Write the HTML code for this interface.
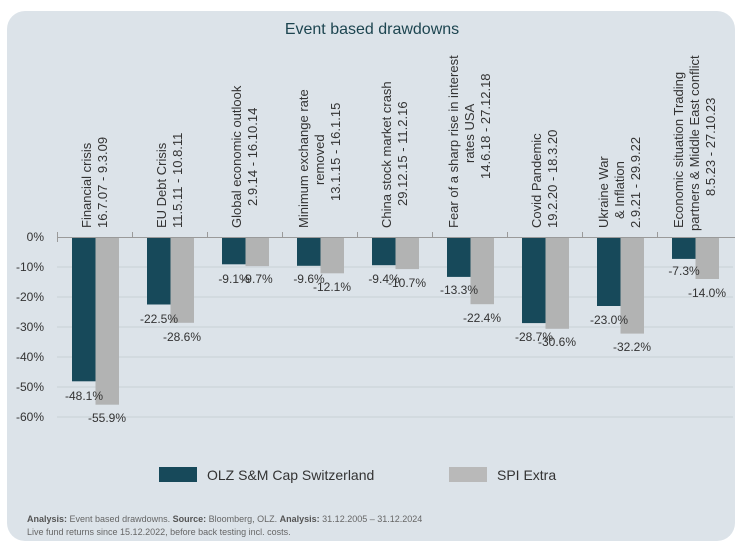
<!DOCTYPE html>
<html><head><meta charset="utf-8"><style>
html,body{margin:0;padding:0;background:#fff;width:746px;height:548px;overflow:hidden}
svg{display:block}
text{font-family:"Liberation Sans",sans-serif}
</style></head><body>
<svg width="746" height="548" viewBox="0 0 746 548" xmlns="http://www.w3.org/2000/svg">
<rect x="7" y="11" width="728" height="530" rx="18" fill="#dce3e9"/>
<text x="372" y="34" text-anchor="middle" font-size="16" fill="#1d4550">Event based drawdowns</text>
<g stroke="#c9d0d5" stroke-width="1">
<line x1="57" y1="267" x2="733" y2="267"/><line x1="57" y1="297" x2="733" y2="297"/>
<line x1="57" y1="327" x2="733" y2="327"/><line x1="57" y1="357" x2="733" y2="357"/>
<line x1="57" y1="387" x2="733" y2="387"/><line x1="57" y1="417" x2="733" y2="417"/>
</g>
<g font-size="12" fill="#333" text-anchor="end">
<text x="44" y="241">0%</text><text x="44" y="271">-10%</text><text x="44" y="301">-20%</text>
<text x="44" y="331">-30%</text><text x="44" y="361">-40%</text><text x="44" y="391">-50%</text><text x="44" y="421">-60%</text>
</g>
<g fill="#17495a">
<rect x="72" y="237" width="23.5" height="144.3"/>
<rect x="147" y="237" width="23.5" height="67.5"/>
<rect x="222" y="237" width="23.5" height="27.3"/>
<rect x="297" y="237" width="23.5" height="28.8"/>
<rect x="372" y="237" width="23.5" height="28.2"/>
<rect x="447" y="237" width="23.5" height="39.9"/>
<rect x="522" y="237" width="23.5" height="86.1"/>
<rect x="597" y="237" width="23.5" height="69"/>
<rect x="672" y="237" width="23.5" height="21.9"/>
</g>
<g fill="#b2b3b3">
<rect x="95.5" y="237" width="23.5" height="167.7"/>
<rect x="170.5" y="237" width="23.5" height="85.8"/>
<rect x="245.5" y="237" width="23.5" height="29.1"/>
<rect x="320.5" y="237" width="23.5" height="36.3"/>
<rect x="395.5" y="237" width="23.5" height="32.1"/>
<rect x="470.5" y="237" width="23.5" height="67.2"/>
<rect x="545.5" y="237" width="23.5" height="91.8"/>
<rect x="620.5" y="237" width="23.5" height="96.6"/>
<rect x="695.5" y="237" width="23.5" height="42"/>
</g>
<g stroke="#9a9a9a" stroke-width="1">
<line x1="57" y1="237.5" x2="735" y2="237.5"/>
<line x1="57.5" y1="232" x2="57.5" y2="242"/><line x1="132.5" y1="232" x2="132.5" y2="238"/>
<line x1="207.5" y1="232" x2="207.5" y2="238"/><line x1="282.5" y1="232" x2="282.5" y2="238"/>
<line x1="357.5" y1="232" x2="357.5" y2="238"/><line x1="432.5" y1="232" x2="432.5" y2="238"/>
<line x1="507.5" y1="232" x2="507.5" y2="238"/><line x1="582.5" y1="232" x2="582.5" y2="238"/>
<line x1="657.5" y1="232" x2="657.5" y2="238"/>
</g>
<g font-size="12" fill="#333" text-anchor="middle">
<text x="84" y="400">-48.1%</text><text x="107" y="422">-55.9%</text>
<text x="159" y="323">-22.5%</text><text x="182" y="341">-28.6%</text>
<text x="234" y="283">-9.1%</text><text x="257" y="283">-9.7%</text>
<text x="309" y="283">-9.6%</text><text x="332" y="291">-12.1%</text>
<text x="384" y="283">-9.4%</text><text x="407" y="287">-10.7%</text>
<text x="459" y="294">-13.3%</text><text x="482" y="322">-22.4%</text>
<text x="534" y="341">-28.7%</text><text x="557" y="346">-30.6%</text>
<text x="609" y="324">-23.0%</text><text x="632" y="351">-32.2%</text>
<text x="684" y="275">-7.3%</text><text x="707" y="297">-14.0%</text>
</g>
<g font-size="13" fill="#333" text-anchor="start">
<g transform="translate(95,228) rotate(-90)"><text x="0" y="-4">Financial crisis</text><text x="0" y="12">16.7.07 - 9.3.09</text></g>
<g transform="translate(170,228) rotate(-90)"><text x="0" y="-4">EU Debt Crisis</text><text x="0" y="12">11.5.11 - 10.8.11</text></g>
<g transform="translate(245,228) rotate(-90)"><text x="0" y="-4">Global economic outlook</text><text x="22" y="12">2.9.14 - 16.10.14</text></g>
<g transform="translate(320,228) rotate(-90)"><text x="0" y="-12">Minimum exchange rate</text><text x="43" y="4">removed</text><text x="27" y="20">13.1.15 - 16.1.15</text></g>
<g transform="translate(395,228) rotate(-90)"><text x="0" y="-4">China stock market crash</text><text x="22" y="12">29.12.15 - 11.2.16</text></g>
<g transform="translate(470,228) rotate(-90)"><text x="0" y="-12">Fear of a sharp rise in interest</text><text x="65" y="4">rates USA</text><text x="49" y="20">14.6.18 - 27.12.18</text></g>
<g transform="translate(545,228) rotate(-90)"><text x="0" y="-4">Covid Pandemic</text><text x="0" y="12">19.2.20 - 18.3.20</text></g>
<g transform="translate(620,228) rotate(-90)"><text x="0" y="-12">Ukraine War</text><text x="9" y="4">&amp; Inflation</text><text x="0" y="20">2.9.21 - 29.9.22</text></g>
<g transform="translate(695,228) rotate(-90)"><text x="0" y="-12">Economic situation Trading</text><text x="-3" y="4">partners &amp; Middle East conflict</text><text x="32" y="20">8.5.23 - 27.10.23</text></g>
</g>
<rect x="159" y="467" width="38" height="15" fill="#17495a"/>
<text x="207" y="480" font-size="14" fill="#333">OLZ S&amp;M Cap Switzerland</text>
<rect x="449" y="467" width="38" height="15" fill="#b9b9b9"/>
<text x="497" y="480" font-size="14" fill="#333">SPI Extra</text>
<g font-size="9" fill="#666">
<text x="27" y="522"><tspan font-weight="bold" fill="#555">Analysis:</tspan> Event based drawdowns. <tspan font-weight="bold" fill="#555">Source:</tspan> Bloomberg, OLZ. <tspan font-weight="bold" fill="#555">Analysis:</tspan> 31.12.2005 – 31.12.2024</text>
<text x="27" y="535">Live fund returns since 15.12.2022, before back testing incl. costs.</text>
</g>
</svg>
</body></html>
